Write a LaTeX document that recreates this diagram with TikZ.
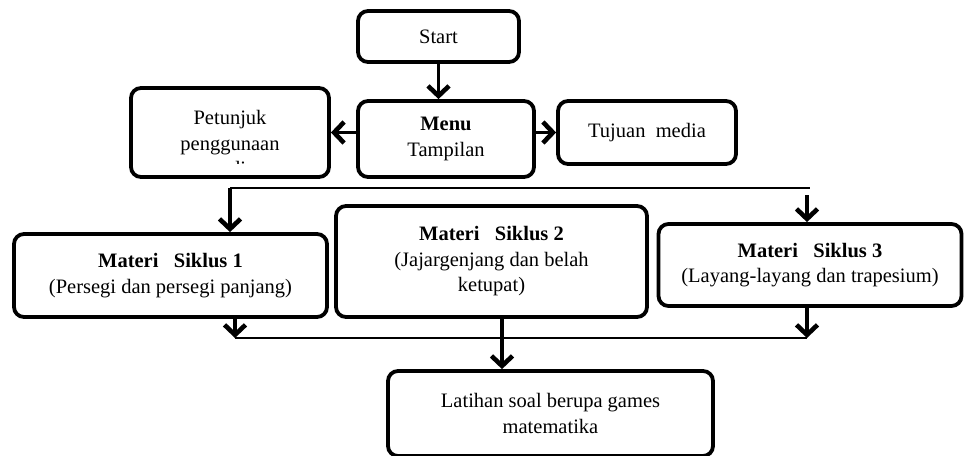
\documentclass[tikz,border=0pt]{standalone}
\usepackage{fontspec}
\setmainfont{Liberation Serif}
\usetikzlibrary{arrows.meta}
\newcommand\myfs{\fontsize{20.5}{25.5}\selectfont}
\tikzset{
  box/.style={draw, line width=3.8pt, rounded corners=10pt, inner sep=0pt, align=center, font=\myfs},
  arr/.style={line width=3.8pt, -{Straight Barb[length=10pt,width=21pt,line width=4.6pt]}},
  thinline/.style={line width=1.6pt},
  plain/.style={inner sep=0pt, align=center, font=\myfs}
}
\begin{document}
\begin{tikzpicture}[x=1pt,y=-1pt]
\useasboundingbox (0,0) rectangle (965,455);
% boxes
\node[box, minimum width=161pt, minimum height=51pt] (start) at (438.5,36.5) {Start};
\node[box, minimum width=176pt, minimum height=76pt] (menu) at (446,139) {\textbf{Menu}\\Tampilan};
\node[box, minimum width=198pt, minimum height=89pt] (pet) at (230,132.5) {};
\begin{scope}
  \clip (132,89) rectangle (328,163);
  \node[plain] (pettext) at (230,143) {Petunjuk\\penggunaan\\media};
\end{scope}
\node[box, minimum width=178pt, minimum height=63pt] (tuj) at (647,132.5) {Tujuan\ \ media};
\node[box, minimum width=313pt, minimum height=83pt] (m1) at (170.5,275.5)
  {\textbf{Materi\hspace{0.75em}Siklus 1}\\(Persegi dan persegi panjang)};
\node[box, minimum width=311pt, minimum height=111pt] (m2) at (491.5,261.5)
  {\textbf{Materi\hspace{0.75em}Siklus 2}\\(Jajargenjang dan belah\\ketupat)};
\node[box, minimum width=303pt, minimum height=82pt] (m3) at (810,265)
  {\textbf{Materi\hspace{0.75em}Siklus 3}\\(Layang-layang dan trapesium)};
\node[box, minimum width=325pt, minimum height=85pt] (lat) at (550.5,413.5)
  {Latihan soal berupa games\\matematika};
% connectors top
\draw[arr] (start.south) -- (start.south |- menu.north);
\draw[arr] (menu.west |- pet.east) -- (pet.east);
\draw[arr] (menu.east |- tuj.west) -- (tuj.west);
% distribution line
\coordinate (tl) at (230,188);
\coordinate (tr) at (810,188);
\coordinate (tr2) at (807,195);
\draw[thinline] (tl) -- (tr);
\draw[arr] (tl) -- (tl |- m1.north);
\draw[arr] (tr2) -- (tr2 |- m3.north);
% collection line
\coordinate (bl) at (235,338);
\coordinate (br) at (807,338);
\coordinate (mid) at (502,338);
\draw[thinline] (bl) -- (br);
\draw[arr] (bl |- m1.south) -- (bl);
\draw[arr] (br |- m3.south) -- (br);
\draw[arr] (mid |- m2.south) -- (mid |- lat.north);
\end{tikzpicture}
\end{document}
